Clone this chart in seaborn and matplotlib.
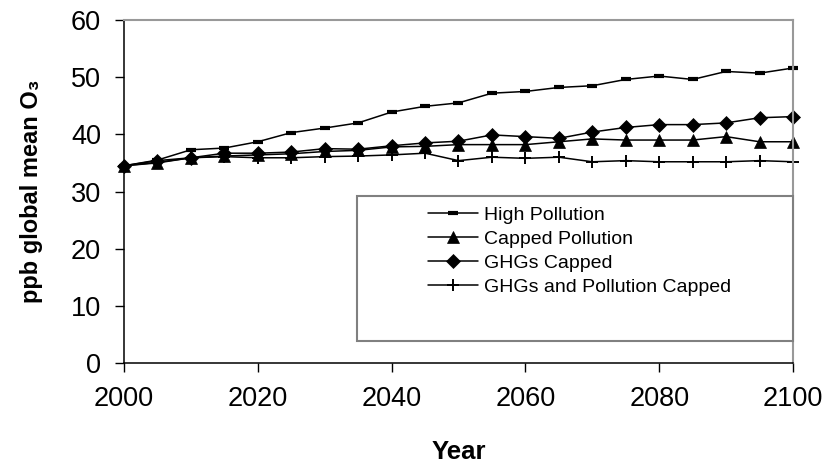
import matplotlib
matplotlib.use("Agg")
import matplotlib.pyplot as plt
import matplotlib.patches as mpatches
import seaborn as sns
import pandas as pd

# values (ppb, every 5 years)
years = list(range(2000, 2101, 5))
high_pollution = [34.5, 35.5, 37.3, 37.6, 38.7, 40.3, 41.1, 42.0, 43.9, 44.9, 45.5,
                  47.2, 47.5, 48.2, 48.5, 49.6, 50.2, 49.6, 51.0, 50.7, 51.6]
capped_pollution = [34.5, 35.0, 35.9, 36.2, 36.4, 36.6, 37.0, 37.2, 37.8, 37.9, 38.2,
                    38.2, 38.2, 38.7, 39.2, 39.0, 39.0, 39.0, 39.6, 38.7, 38.7]
ghgs_capped = [34.5, 35.4, 35.9, 36.7, 36.7, 36.9, 37.5, 37.4, 38.0, 38.5, 38.8,
               39.9, 39.6, 39.3, 40.4, 41.2, 41.7, 41.7, 42.0, 42.9, 43.1]
ghgs_pollution_capped = [34.5, 35.1, 35.9, 36.1, 35.9, 35.9, 36.1, 36.2, 36.4, 36.7, 35.4,
                         36.0, 35.8, 36.0, 35.2, 35.4, 35.2, 35.2, 35.2, 35.4, 35.2]
series_names = ["High Pollution", "Capped Pollution", "GHGs Capped",
                "GHGs and Pollution Capped"]
x_ticks = [2000, 2020, 2040, 2060, 2080, 2100]
y_ticks = [0, 10, 20, 30, 40, 50, 60]

sns.set_style("white")
plt.rcParams['font.family'] = ['Liberation Sans', 'DejaVu Sans']
plt.rcParams['text.color'] = 'black'
plt.rcParams['axes.labelcolor'] = 'black'

fig = plt.figure(figsize=(8.29, 4.66), dpi=100)
ax = fig.add_axes([124 / 829, 1 - 363 / 466, 669 / 829, 343 / 466])

styles = [
    dict(marker="_", markersize=7, markeredgewidth=3),
    dict(marker="^", markersize=9, markeredgewidth=0.5),
    dict(marker="D", markersize=7, markeredgewidth=0.5),
    dict(marker="+", markersize=9, markeredgewidth=1.4),
]
all_values = [high_pollution, capped_pollution, ghgs_capped, ghgs_pollution_capped]
for name, vals, st in zip(series_names, all_values, styles):
    df = pd.DataFrame({"Year": years, "O3": vals})
    sns.lineplot(data=df, x="Year", y="O3", ax=ax, color="black", linewidth=1.1,
                 markerfacecolor="black", markeredgecolor="black", label=name,
                 clip_on=False, **st)

ax.set_xlim(2000, 2100)
ax.set_ylim(0, 60)
ax.set_xticks(x_ticks)
ax.set_yticks(y_ticks)
ax.tick_params(axis="both", direction="out", length=6.5, width=1, colors="black",
               labelsize=19.5, bottom=True, left=True)
ax.tick_params(axis="y", pad=10)
ax.tick_params(axis="x", pad=10)

for side in ["left", "bottom"]:
    ax.spines[side].set_color("black")
    ax.spines[side].set_linewidth(1.1)
for side in ["top", "right"]:
    ax.spines[side].set_color("#999999")
    ax.spines[side].set_linewidth(1.5)

ax.set_xlabel("Year", fontsize=18.5, fontweight="bold", labelpad=20, color="black")
ax.set_ylabel("ppb global mean O₃", fontsize=17, fontweight="bold", labelpad=20,
              color="black")

# legend box drawn as its own rectangle, entries sit in its upper-left part
box = mpatches.Rectangle((0.348, 0.064), 0.652, 0.424, transform=ax.transAxes,
                         facecolor="white", edgecolor="#808080", linewidth=1.5,
                         zorder=4, clip_on=False)
ax.add_patch(box)
leg = ax.legend(loc="upper left", bbox_to_anchor=(0.454, 0.458), frameon=False,
                fontsize=14, handlelength=2.6, handletextpad=0.3, labelspacing=0.33,
                borderaxespad=0, borderpad=0)
leg.set_zorder(5)
for t in leg.get_texts():
    t.set_color("black")

fig.savefig("out.png", dpi=100)
